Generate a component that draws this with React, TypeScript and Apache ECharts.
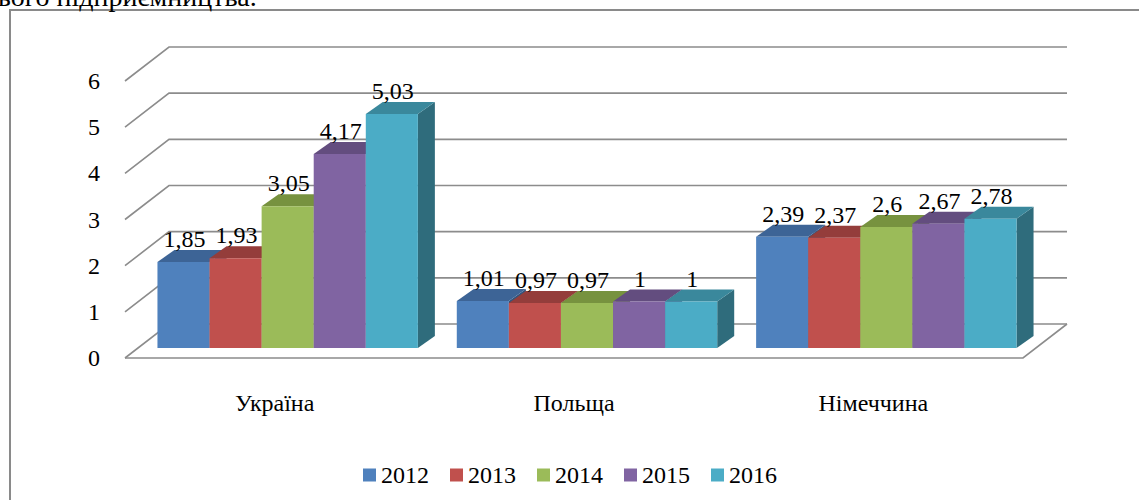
import React, { useEffect, useRef } from "react";
import * as echarts from "echarts";

const countries = ["Україна", "Польща", "Німеччина"];
const years = ["2012", "2013", "2014", "2015", "2016"];
const values2012 = [1.85, 1.01, 2.39];
const values2013 = [1.93, 0.97, 2.37];
const values2014 = [3.05, 0.97, 2.6];
const values2015 = [4.17, 1, 2.67];
const values2016 = [5.03, 1, 2.78];
const seriesValues = [values2012, values2013, values2014, values2015, values2016];
const yTicks = [0, 1, 2, 3, 4, 5, 6];

const frontColors = ["#4F81BD", "#C0504D", "#9BBB59", "#8064A2", "#4BACC6"];
const topColors = ["#3D6496", "#943D3B", "#77923F", "#634D7F", "#3A889C"];
const sideColors = ["#33547C", "#7C3331", "#627A36", "#523F69", "#2F6C7C"];

const FONT = "Liberation Serif, DejaVu Serif, Times New Roman, serif";
const DEPTH_X = 17;
const DEPTH_Y = -12;
const WALL_X = 44;
const WALL_Y = -34;
const GRID_STROKE = "#8c8c8c";

function fmt(v: number): string {
  return String(v).replace(".", ",");
}

export default function App() {
  const ref = useRef<HTMLDivElement>(null);

  useEffect(() => {
    if (!ref.current) return;
    const chart = echarts.init(ref.current, undefined, { renderer: "svg" });

    const barSeries = years.map((year, si) => ({
      name: year,
      type: "custom",
      xAxisIndex: 1,
      yAxisIndex: 1,
      z: 3,
      itemStyle: { color: frontColors[si] },
      data: seriesValues[si].map((v, ci) => [ci, v]),
      renderItem: (params: any, api: any) => {
        const ci = api.value(0);
        const v = api.value(1);
        const band = api.size([1, 0])[0];
        const bw = (band * 0.87) / years.length;
        const top = api.coord([ci, v]);
        const base = api.coord([ci, 0]);
        const x0 = top[0] + (si - years.length / 2) * bw;
        const x1 = x0 + bw;
        const yt = top[1];
        const yb = base[1];
        return {
          type: "group",
          children: [
            {
              type: "polygon",
              shape: {
                points: [
                  [x1, yt],
                  [x1 + DEPTH_X, yt + DEPTH_Y],
                  [x1 + DEPTH_X, yb + DEPTH_Y],
                  [x1, yb],
                ],
              },
              style: { fill: sideColors[si] },
            },
            {
              type: "polygon",
              shape: {
                points: [
                  [x0, yt],
                  [x1, yt],
                  [x1 + DEPTH_X, yt + DEPTH_Y],
                  [x0 + DEPTH_X, yt + DEPTH_Y],
                ],
              },
              style: { fill: topColors[si] },
            },
            {
              type: "rect",
              shape: { x: x0, y: yt, width: bw, height: yb - yt },
              style: { fill: frontColors[si] },
            },
            {
              type: "text",
              style: {
                text: fmt(v),
                x: (x0 + x1) / 2 + 1,
                y: yt + DEPTH_Y + 1,
                align: "center",
                verticalAlign: "bottom",
                font: "24px " + FONT,
                fill: "#000",
              },
              z2: 10,
            },
          ],
        };
      },
    }));

    const wallSeries = {
      name: "walls",
      type: "custom",
      xAxisIndex: 0,
      yAxisIndex: 0,
      z: 1,
      silent: true,
      data: yTicks.map((t) => [0, t]),
      renderItem: (params: any, api: any) => {
        const t = api.value(1);
        const cs = params.coordSys;
        const y = api.coord([0, t])[1];
        const xl = cs.x;
        const xr = cs.x + cs.width;
        const children: any[] = [
          {
            type: "polyline",
            shape: {
              points: [
                [xl, y],
                [xl + WALL_X, y + WALL_Y],
                [xr + WALL_X, y + WALL_Y],
              ],
            },
            style: { stroke: GRID_STROKE, lineWidth: 1.6, fill: "none" },
          },
        ];
        if (t === 0) {
          children.push({
            type: "polyline",
            shape: {
              points: [
                [xl, y],
                [xr, y],
                [xr + WALL_X, y + WALL_Y],
              ],
            },
            style: { stroke: GRID_STROKE, lineWidth: 1.6, fill: "none" },
          });
        }
        return { type: "group", children };
      },
    };

    chart.setOption({
      animation: false,
      backgroundColor: "#ffffff",
      textStyle: { fontFamily: FONT },
      grid: [
        { left: 125, right: 116, top: 81, bottom: 142 },
        { left: 138, right: 103, top: 69, bottom: 152 },
      ],
      xAxis: [
        {
          type: "category",
          gridIndex: 0,
          data: countries,
          axisLine: { show: false },
          axisTick: { show: false },
          axisLabel: { fontSize: 24, fontFamily: FONT, color: "#000", margin: 33 },
        },
        {
          type: "category",
          gridIndex: 1,
          data: countries,
          show: false,
        },
      ],
      yAxis: [
        {
          type: "value",
          gridIndex: 0,
          min: 0,
          max: 6,
          interval: 1,
          axisLine: { show: false },
          axisTick: { show: false },
          splitLine: { show: false },
          axisLabel: { fontSize: 24, fontFamily: FONT, color: "#000", margin: 25 },
        },
        {
          type: "value",
          gridIndex: 1,
          min: 0,
          max: 6,
          interval: 1,
          show: false,
          splitLine: { show: false },
        },
      ],
      legend: {
        data: years.map((y) => ({ name: y, icon: "rect" })),
        left: 358,
        top: 458,
        itemWidth: 13,
        itemHeight: 13,
        itemGap: 21,
        textStyle: { fontSize: 24, fontFamily: FONT, color: "#000" },
      },
      graphic: [
        {
          type: "rect",
          shape: { x: 10, y: 10, width: 1300, height: 700 },
          style: { fill: "none", stroke: "#8a8a8a", lineWidth: 2 },
          silent: true,
        },
        {
          type: "text",
          left: -2,
          top: -18,
          style: {
            text: "ього підприємництва.",
            font: "28px " + FONT,
            fill: "#000",
          },
          silent: true,
        },
      ],
      series: [wallSeries, ...barSeries],
    });

    return () => chart.dispose();
  }, []);

  return (
    <div
      ref={ref}
      style={{ position: "fixed", left: 0, top: 0, width: 1139, height: 500 }}
    />
  );
}
